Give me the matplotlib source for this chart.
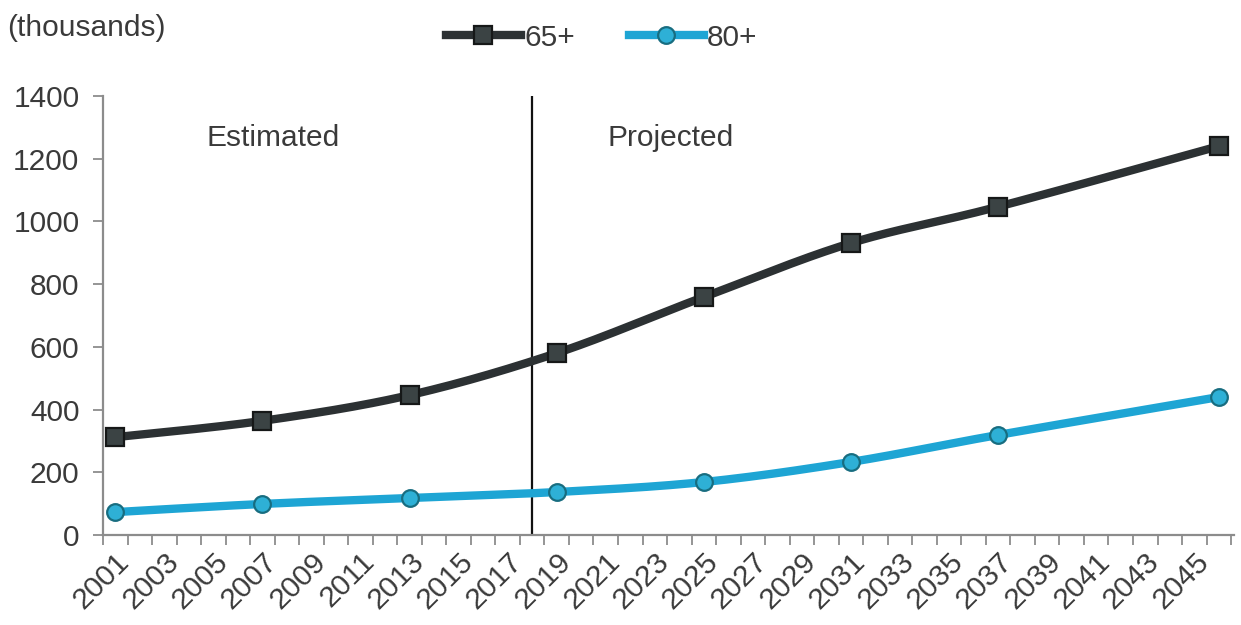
import numpy as np
import matplotlib
matplotlib.use("Agg")
import matplotlib.pyplot as plt
from matplotlib.lines import Line2D

plt.rcParams['font.family'] = ['Liberation Sans', 'DejaVu Sans']

# Population aged 65+ and 80+ (thousands)
years = [2001, 2007, 2013, 2019, 2025, 2031, 2037, 2046]
pop_65 = [312, 364, 446, 580, 759, 931, 1047, 1240]
pop_80 = [73, 99, 118, 137, 169, 233, 319, 440]
label_years = list(range(2001, 2046, 2))
split_year = 2018
series_names = ["65+", "80+"]


def smooth(xs, ys, n=40):
    """Bezier smoothing through the points (spreadsheet-style smoothed line)."""
    p = np.column_stack([xs, ys]).astype(float)
    ext = np.vstack([p[0], p, p[-1]])
    out = []
    for i in range(1, len(ext) - 2):
        p0, p1, p2, p3 = ext[i - 1], ext[i], ext[i + 1], ext[i + 2]
        c1 = p1 + (p2 - p0) / 6.0
        c2 = p2 - (p3 - p1) / 6.0
        t = np.linspace(0, 1, n)[:, None]
        seg = ((1 - t) ** 3) * p1 + 3 * ((1 - t) ** 2) * t * c1 + 3 * (1 - t) * t ** 2 * c2 + t ** 3 * p2
        out.append(seg if i == 1 else seg[1:])
    s = np.vstack(out)
    return s[:, 0], s[:, 1]


dark = "#2c3133"
dark_face = "#3b4344"
cyan = "#1ea5d4"
cyan_face = "#2eb0d6"
cyan_edge = "#186d80"
text_col = "#3a3a3a"
axis_col = "#8c8c8c"
fs = 21.5
lw = 6.0

fig = plt.figure(figsize=(12.41, 6.25), dpi=100)
ax = fig.add_axes([0.083, 0.144, 0.911, 0.7024])

sx, sy = smooth(years, pop_65)
ax.plot(sx, sy, color=dark, lw=lw, solid_capstyle="round", zorder=3)
ax.plot(years, pop_65, ls="none", marker="s", ms=12.5, mfc=dark_face, mec="#161818", mew=1.6, zorder=4)

sx, sy = smooth(years, pop_80)
ax.plot(sx, sy, color=cyan, lw=lw, solid_capstyle="round", zorder=3)
ax.plot(years, pop_80, ls="none", marker="o", ms=12, mfc=cyan_face, mec=cyan_edge, mew=1.6, zorder=4)

ax.axvline(split_year, ymin=0, ymax=1, color="#111111", lw=1.6, zorder=2)

ax.set_xlim(2000.5, 2046.6)
ax.set_ylim(0, 1400)
ax.set_yticks(range(0, 1401, 200))
ax.set_xticks(label_years)
ax.set_xticklabels([str(y) for y in label_years], rotation=45, ha="right",
                   rotation_mode="anchor")
ax.set_xticks(np.arange(2000.5, 2046.6, 1), minor=True)
ax.tick_params(axis="x", which="major", length=0, pad=9, labelsize=fs, labelcolor=text_col)
ax.tick_params(axis="x", which="minor", length=7, width=1.3, color=axis_col, direction="out")
ax.tick_params(axis="y", length=7, width=1.3, color=axis_col, pad=10, labelsize=fs, labelcolor=text_col)

for side in ("top", "right"):
    ax.spines[side].set_visible(False)
for side in ("left", "bottom"):
    ax.spines[side].set_color(axis_col)
    ax.spines[side].set_linewidth(1.6)

ax.text(2007.45, 1266, "Estimated", ha="center", va="center", fontsize=fs, color=text_col)
ax.text(2023.65, 1266, "Projected", ha="center", va="center", fontsize=fs, color=text_col)

fig.text(0.006, 0.955, "(thousands)", ha="left", va="center", fontsize=fs, color=text_col)

handles = [
    Line2D([], [], color=dark, lw=lw, marker="s", ms=12.5, mfc=dark_face, mec="#161818", mew=1.6),
    Line2D([], [], color=cyan, lw=lw, marker="o", ms=12, mfc=cyan_face, mec=cyan_edge, mew=1.6),
]
fig.legend(handles, series_names, loc="center", bbox_to_anchor=(0.485, 0.94), ncol=2,
           frameon=False, fontsize=fs, handlelength=2.5, handletextpad=0.12,
           columnspacing=1.8, labelcolor=text_col)

fig.savefig("out.png", dpi=100, facecolor="white")
